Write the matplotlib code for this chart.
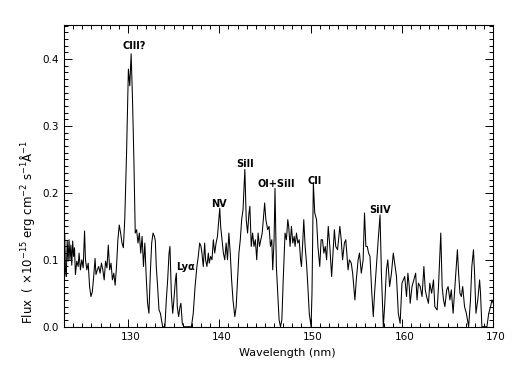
import matplotlib
matplotlib.use("Agg")
import matplotlib.pyplot as plt
from matplotlib.ticker import MultipleLocator
import matplotlib.transforms as mtransforms

wavelength = [
    123.00, 123.08, 123.16, 123.25, 123.35, 123.45, 123.55, 123.65, 123.75, 123.85,
    123.95, 124.05, 124.15, 124.25, 124.40, 124.55, 124.65, 124.80, 124.95, 125.10,
    125.25, 125.35, 125.50, 125.65, 125.80, 125.95, 126.10, 126.25, 126.40, 126.50,
    126.65, 126.80, 126.95, 127.10, 127.25, 127.40, 127.55, 127.70, 127.85, 128.00,
    128.15, 128.30, 128.45, 128.60, 128.75, 128.90, 129.05, 129.20, 129.35, 129.50,
    129.65, 129.85, 130.05, 130.20, 130.35, 130.50, 130.65, 130.80, 130.95, 131.10,
    131.25, 131.40, 131.55, 131.70, 131.85, 132.00, 132.15, 132.30, 132.45, 132.60,
    132.75, 132.90, 133.00, 133.10, 133.25, 133.40, 133.55, 133.80, 134.05, 134.20,
    134.35, 134.50, 134.60, 134.75, 134.90, 135.00, 135.20, 135.30, 135.40, 135.55,
    135.70, 135.80, 135.95, 136.10, 136.40, 136.70, 136.95, 137.15, 137.35, 137.55,
    137.70, 137.85, 138.00, 138.10, 138.25, 138.40, 138.50, 138.65, 138.80, 138.90,
    139.05, 139.20, 139.35, 139.50, 139.65, 139.80, 139.95, 140.05, 140.15, 140.30,
    140.45, 140.60, 140.75, 140.90, 141.05, 141.20, 141.35, 141.50, 141.70, 141.85,
    142.00, 142.15, 142.30, 142.45, 142.60, 142.80, 142.95, 143.10, 143.25, 143.35,
    143.50, 143.65, 143.80, 143.95, 144.10, 144.25, 144.40, 144.55, 144.70, 144.85,
    144.97, 145.10, 145.30, 145.45, 145.60, 145.75, 145.85, 146.00, 146.10, 146.25,
    146.40, 146.55, 146.70, 146.85, 147.00, 147.20, 147.35, 147.50, 147.60, 147.75,
    147.90, 148.05, 148.20, 148.30, 148.45, 148.60, 148.75, 148.90, 149.00, 149.15,
    149.25, 149.40, 149.55, 149.70, 149.85, 150.05, 150.15, 150.30, 150.45, 150.65,
    150.80, 151.00, 151.15, 151.30, 151.45, 151.60, 151.75, 151.93, 152.10, 152.30,
    152.45, 152.60, 152.75, 152.95, 153.20, 153.35, 153.50, 153.70, 153.85, 154.10,
    154.25, 154.45, 154.60, 154.85, 155.00, 155.20, 155.35, 155.55, 155.75, 155.90,
    156.05, 156.20, 156.35, 156.50, 156.70, 156.86, 157.00, 157.20, 157.40, 157.60,
    157.75, 157.96, 158.10, 158.30, 158.45, 158.65, 158.85, 159.05, 159.25, 159.40,
    159.60, 159.80, 160.00, 160.15, 160.30, 160.50, 160.65, 160.80, 160.90, 161.10,
    161.30, 161.50, 161.65, 161.80, 162.00, 162.20, 162.40, 162.55, 162.70, 162.90,
    163.05, 163.25, 163.45, 163.60, 163.85, 164.00, 164.25, 164.40, 164.55, 164.70,
    164.90, 165.05, 165.25, 165.40, 165.60, 165.80, 166.07, 166.20, 166.35, 166.50,
    166.65, 166.85, 167.05, 167.30, 167.50, 167.65, 167.83, 167.95, 168.10, 168.30,
    168.50, 168.60, 168.75, 169.00, 169.30, 169.50, 169.70, 169.85, 170.00,
]

flux = [
    0.100, 0.138, 0.085, 0.075, 0.128, 0.098, 0.130, 0.100, 0.122, 0.092,
    0.128, 0.105, 0.118, 0.078, 0.098, 0.090, 0.110, 0.085, 0.100, 0.088,
    0.143, 0.100, 0.085, 0.095, 0.060, 0.045, 0.052, 0.075, 0.102, 0.078,
    0.085, 0.090, 0.080, 0.095, 0.085, 0.070, 0.098, 0.088, 0.122, 0.085,
    0.095, 0.070, 0.080, 0.062, 0.090, 0.130, 0.152, 0.140, 0.125, 0.118,
    0.160, 0.260, 0.385, 0.360, 0.408, 0.340, 0.250, 0.140, 0.145, 0.125,
    0.140, 0.110, 0.135, 0.090, 0.125, 0.075, 0.035, 0.020, 0.080, 0.125,
    0.140, 0.135, 0.128, 0.090, 0.060, 0.025, 0.020, 0.000, 0.000, 0.040,
    0.070, 0.110, 0.120, 0.050, 0.020, 0.035, 0.070, 0.080, 0.030, 0.015,
    0.030, 0.035, 0.005, 0.000, 0.000, 0.000, 0.000, 0.020, 0.060, 0.090,
    0.105, 0.125, 0.120, 0.110, 0.090, 0.125, 0.100, 0.090, 0.110, 0.095,
    0.105, 0.100, 0.130, 0.110, 0.125, 0.135, 0.160, 0.177, 0.150, 0.130,
    0.110, 0.100, 0.125, 0.100, 0.140, 0.110, 0.070, 0.040, 0.015, 0.030,
    0.070, 0.110, 0.130, 0.160, 0.175, 0.235, 0.160, 0.140, 0.170, 0.180,
    0.120, 0.140, 0.120, 0.130, 0.100, 0.140, 0.120, 0.130, 0.140, 0.165,
    0.185, 0.160, 0.145, 0.150, 0.120, 0.130, 0.085, 0.130, 0.207, 0.090,
    0.050, 0.010, 0.000, 0.010, 0.070, 0.140, 0.130, 0.160, 0.150, 0.120,
    0.150, 0.125, 0.135, 0.120, 0.140, 0.125, 0.130, 0.100, 0.090, 0.130,
    0.160, 0.120, 0.095, 0.060, 0.020, 0.000, 0.050, 0.215, 0.170, 0.160,
    0.120, 0.090, 0.130, 0.130, 0.110, 0.120, 0.100, 0.150, 0.120, 0.075,
    0.110, 0.145, 0.120, 0.115, 0.150, 0.130, 0.100, 0.125, 0.130, 0.085,
    0.100, 0.095, 0.080, 0.040, 0.070, 0.100, 0.110, 0.080, 0.100, 0.170,
    0.120, 0.120, 0.110, 0.105, 0.050, 0.015, 0.050, 0.090, 0.130, 0.167,
    0.080, 0.000, 0.030, 0.085, 0.100, 0.060, 0.080, 0.110, 0.090, 0.075,
    0.020, 0.005, 0.065, 0.070, 0.075, 0.045, 0.080, 0.060, 0.035, 0.060,
    0.070, 0.080, 0.040, 0.065, 0.060, 0.045, 0.090, 0.055, 0.045, 0.035,
    0.065, 0.050, 0.070, 0.030, 0.025, 0.060, 0.140, 0.060, 0.040, 0.030,
    0.055, 0.060, 0.040, 0.055, 0.020, 0.060, 0.115, 0.080, 0.050, 0.045,
    0.060, 0.030, 0.020, 0.000, 0.040, 0.090, 0.115, 0.080, 0.020, 0.040,
    0.070, 0.050, 0.000, 0.000, 0.000, 0.020, 0.030, 0.040, 0.035,
]

line_labels = ["CIII?", "NV", "SiII", "OI+SiII", "CII", "SiIV", "Lyα"]
label_wavelength = [130.63, 140.0, 142.77, 146.24, 150.4, 157.6, 136.34]
label_flux = [0.419, 0.184, 0.243, 0.214, 0.218, 0.175, 0.089]

fig = plt.figure(figsize=(5.18, 3.71), dpi=100)
ax = fig.add_axes([64 / 518, 1 - 326.7 / 371, (493.3 - 64) / 518, (326.7 - 25) / 371])

ax.plot(wavelength, flux, color="black", lw=0.75)

ax.set_xlim(123, 170)
ax.set_ylim(0, 0.451)
ax.xaxis.set_major_locator(MultipleLocator(10))
ax.xaxis.set_minor_locator(MultipleLocator(1))
ax.yaxis.set_major_locator(MultipleLocator(0.1))
ax.yaxis.set_minor_locator(MultipleLocator(0.01))
ax.yaxis.set_major_formatter(plt.FuncFormatter(lambda v, p: f"{v:.1f}"))

ax.tick_params(which="both", direction="in", top=True, right=True,
               labelsize=7.5, width=0.7, pad=4)
ax.tick_params(which="major", length=6)
ax.tick_params(which="minor", length=3)
for s in ax.spines.values():
    s.set_linewidth(0.8)

offset = mtransforms.ScaledTranslation(2.5 / 100, 0, fig.dpi_scale_trans)
for lab in ax.get_xticklabels():
    lab.set_transform(lab.get_transform() + offset)

for t, x, y in zip(line_labels, label_wavelength, label_flux):
    ax.text(x, y, t, ha="center", va="center", fontsize=7, fontweight="bold")

fig.text(287 / 518, 1 - 353 / 371, "Wavelength (nm)", ha="center", va="center", fontsize=8)
fig.text(28 / 518, 1 - 232 / 371,
         "Flux  ( ×10$^{-15}$ erg cm$^{-2}$ s$^{-1}$Å$^{-1}$",
         ha="center", va="center", rotation=90, fontsize=8.5)

fig.savefig("out.png", dpi=100)
